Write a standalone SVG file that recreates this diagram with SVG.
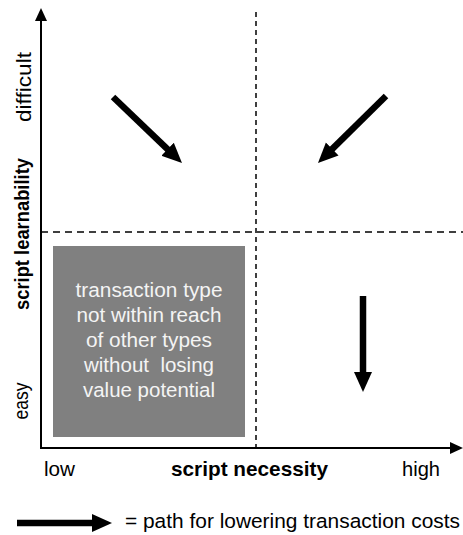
<svg xmlns="http://www.w3.org/2000/svg" width="463" height="535" viewBox="0 0 463 535">
<style>
text{font-family:"Liberation Sans",Arial,sans-serif;font-size:20.5px;fill:#000}
.b{font-weight:bold}
.w{fill:#f4f4f4;text-anchor:middle}
.ax{stroke:#000;stroke-width:2;fill:none}
.dash{stroke:#000;stroke-width:1.5;fill:none}
.big{stroke:#000;stroke-width:6.5;fill:none;marker-end:url(#head)}
</style>
<defs>
<marker id="head" markerUnits="userSpaceOnUse" markerWidth="20" markerHeight="20" viewBox="0 0 20 20" refX="2" refY="10" orient="auto">
<path d="M0,1 L20,10 L0,19 z" fill="#000"/>
</marker>
<marker id="axh" markerUnits="userSpaceOnUse" markerWidth="13" markerHeight="12" viewBox="0 0 13 12" refX="1" refY="6" orient="auto">
<path d="M0,0 L13,6 L0,12 z" fill="#000"/>
</marker>
</defs>
<g id="axes">
<line class="ax" x1="41" y1="449" x2="41" y2="20" marker-end="url(#axh)"/>
<line class="ax" x1="40" y1="448" x2="451" y2="448" marker-end="url(#axh)"/>
<line class="dash" x1="256" y1="12" x2="256" y2="448" stroke-dasharray="5,4"/>
<line class="dash" x1="41" y1="232" x2="463" y2="232" stroke-dasharray="7,5"/>
</g>
<g id="node-box">
<rect x="53" y="246" width="192" height="191" fill="#808080"/>
<text class="w" x="149" y="297" textLength="147" lengthAdjust="spacingAndGlyphs">transaction type</text>
<text class="w" x="149" y="322" textLength="145" lengthAdjust="spacingAndGlyphs">not within reach</text>
<text class="w" x="149" y="347" textLength="126" lengthAdjust="spacingAndGlyphs">of other types</text>
<text class="w" x="149" y="372" textLength="130" lengthAdjust="spacingAndGlyphs" xml:space="preserve">without  losing</text>
<text class="w" x="149" y="397" textLength="132" lengthAdjust="spacingAndGlyphs">value potential</text>
</g>
<g id="labels">
<text transform="translate(31,87) rotate(-90)" text-anchor="middle" textLength="70" lengthAdjust="spacingAndGlyphs">difficult</text>
<text class="b" transform="translate(29,234) rotate(-90)" text-anchor="middle" textLength="152" lengthAdjust="spacingAndGlyphs">script learnability</text>
<text transform="translate(28,401) rotate(-90)" text-anchor="middle" textLength="37" lengthAdjust="spacingAndGlyphs">easy</text>
<text x="44" y="476" textLength="31" lengthAdjust="spacingAndGlyphs">low</text>
<text class="b" x="171" y="476" textLength="157" lengthAdjust="spacingAndGlyphs">script necessity</text>
<text x="402" y="476" textLength="38" lengthAdjust="spacingAndGlyphs">high</text>
</g>
<g id="connectors">
<line class="big" x1="113" y1="97" x2="169" y2="150.6"/>
<line class="big" x1="386" y1="96" x2="330.8" y2="150.4"/>
<line class="big" x1="363" y1="296" x2="363" y2="374"/>
</g>
<g id="legend">
<line class="big" x1="17" y1="523" x2="94" y2="523"/>
<text x="125" y="528" textLength="335" lengthAdjust="spacingAndGlyphs">= path for lowering transaction costs</text>
</g>
</svg>
